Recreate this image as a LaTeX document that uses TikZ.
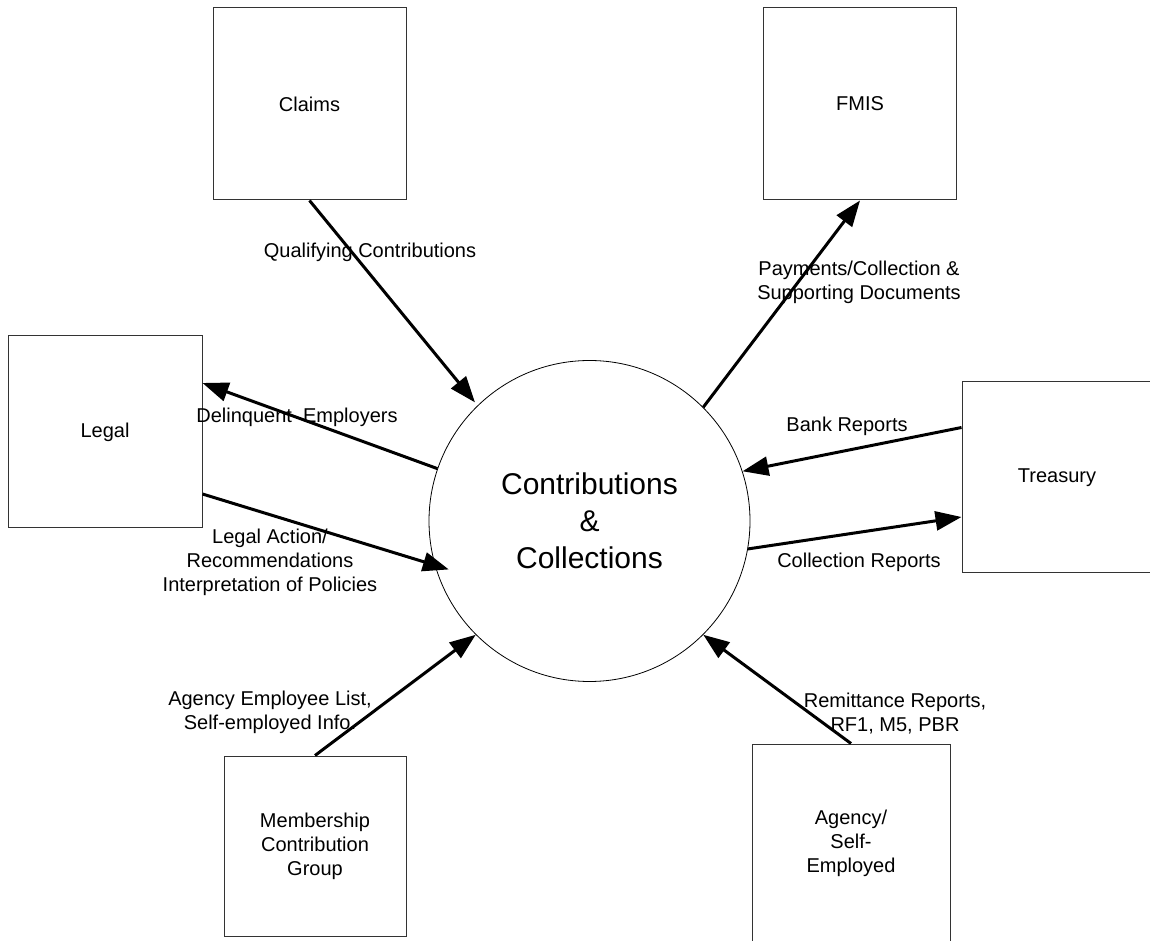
\documentclass[tikz,border=0pt]{standalone}
\usepackage{fontspec}
\setmainfont{Liberation Sans}
\usetikzlibrary{arrows.meta,calc}
\newcommand{\lblfont}{\fontsize{20}{24}\selectfont}
\newcommand{\procfont}{\fontsize{30}{37}\selectfont}

\begin{document}
\begin{tikzpicture}[x=1pt,y=1pt,
  entity/.style={draw=black!80,line width=1pt,inner sep=0pt,align=center,font=\lblfont},
  process/.style={circle,draw,line width=0.8pt,minimum size=321pt,inner sep=0pt,align=center,font=\procfont},
  flow/.style={line width=3pt,-{Triangle[length=26pt,width=19pt]}},
  flowlbl/.style={align=center,font=\lblfont,inner sep=0pt}]
\useasboundingbox (0,0) rectangle (1150,940);

% process and external entities
\node[process] (cc) at (589.5,419) {Contributions\\\&\\Collections};
\node[entity,minimum width=193pt,minimum height=192pt] (claims) at (309.5,836) {Claims};
\node[entity,minimum width=193pt,minimum height=192pt] (fmis) at (860,836) {FMIS};
\node[entity,minimum width=194pt,minimum height=192pt] (legal) at (105,508) {Legal};
\node[entity,minimum width=190pt,minimum height=191pt] (treasury) at (1057,462.5) {Treasury};
\node[entity,minimum width=182pt,minimum height=180pt] (member) at (315,94) {Membership\\Contribution\\Group};
\node[entity,minimum width=198pt,minimum height=198pt] (agency) at (851,97) {Agency/\\Self-\\Employed};

% data flows
\draw[flow] (claims.south) -- ($(cc.center)!1.025!(cc.134)$);
\draw[flow] (cc.45) -- (fmis.south);
\draw[flow] (cc.161) -- ([yshift=49pt]legal.east);
\draw[flow] ([yshift=-62pt]legal.east) -- ($(cc.center)!0.925!(cc.199)$);
\draw[flow] ([yshift=50pt]treasury.west) -- (cc.18);
\draw[flow] (cc.350) -- ([yshift=-39.5pt]treasury.west);
\draw[flow] (member.north) -- (cc.225);
\draw[flow] (agency.north) -- (cc.315);

% flow labels
\node[flowlbl] (qual) at (370,688) {Qualifying Contributions};
\node[flowlbl] (pay) at (859,658) {Payments/Collection \&\\Supporting Documents};
\node[flowlbl] (delinq) at (297,523) {Delinquent\ \ Employers};
\node[flowlbl] (legact) at (270,378) {Legal Action/\\Recommendations\\Interpretation of Policies};
\node[flowlbl] (bank) at (847,514) {Bank Reports};
\node[flowlbl] (collrep) at (859,378) {Collection Reports};
\node[flowlbl] (emplist) at (270,227.5) {Agency Employee List,\\Self-employed Info.};
\node[flowlbl] (remit) at (895,226) {Remittance Reports,\\RF1, M5, PBR};

\end{tikzpicture}
\end{document}
